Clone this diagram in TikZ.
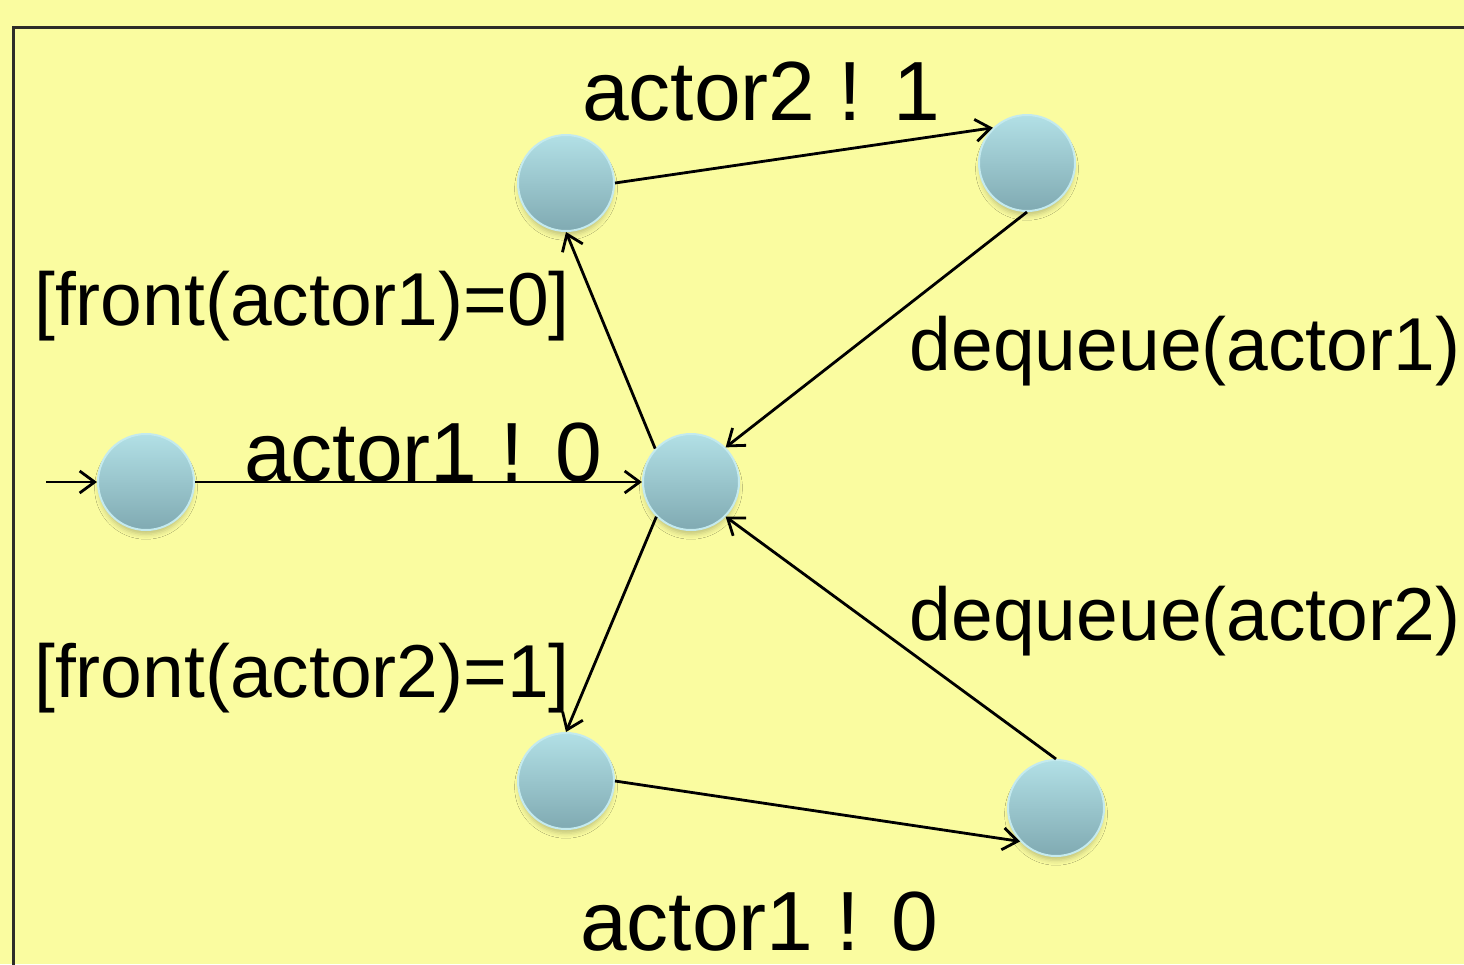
\documentclass[tikz,border=0pt]{standalone}
\usepackage{fontspec}
\setmainfont{Liberation Sans}
\usetikzlibrary{arrows.meta,shadows.blur}
\definecolor{paper}{RGB}{250,252,160}
\definecolor{frameline}{RGB}{45,45,40}
\definecolor{statetop}{RGB}{178,224,230}
\definecolor{statebot}{RGB}{128,170,178}
\definecolor{stateedge}{RGB}{196,234,238}
\tikzset{
  state/.style={circle, minimum size=96pt, inner sep=0pt,
    top color=statetop, bottom color=statebot,
    draw=stateedge, line width=2pt,
    blur shadow={shadow xshift=0pt, shadow yshift=-6pt, shadow scale=0.97,
      shadow blur radius=5pt, shadow opacity=22}},
  trans/.style={draw=black, line width=2.8pt,
    -{Straight Barb[length=15pt,width=22pt]}},
  lbl/.style={font=\fontsize{75}{90}\selectfont, inner sep=0pt, anchor=base},
  sendlbl/.style={lbl, font=\fontsize{84}{100}\selectfont}
}
\begin{document}
\begin{tikzpicture}[x=1pt,y=-1pt]
  % page and frame
  \fill[paper] (0,0) rectangle (1464,964);
  \useasboundingbox (0,0) rectangle (1464,964);
  \draw[frameline, line width=3pt] (13,990) -- (13,27) -- (1490,27);

  % states
  \node[state] (s0) at (146,482) {};
  \node[state] (c)  at (691,482) {};
  \node[state] (t1) at (566,183) {};
  \node[state] (t2) at (1027,163) {};
  \node[state] (b1) at (566,781) {};
  \node[state] (b2) at (1056,808) {};
  \coordinate (init) at (46,482);

  % transitions
  \draw[trans] (init) -- (s0.west);
  \draw[trans] (s0.east) -- (c.west);
  \draw[trans] (c.137) -- (t1.south);
  \draw[trans] (t1.east) -- (t2.134);
  \draw[trans] (t2.south) -- (c.45);
  \draw[trans] (c.225) -- (b1.north);
  \draw[trans] (b1.east) -- (b2.223);
  \draw[trans] (b2.north) -- (c.315);

  % labels
  \node[sendlbl] (l1) at (423,481) {actor1 ! 0};
  \node[lbl] (l2) at (302,325) {[front(actor1)=0]};
  \node[sendlbl] (l3) at (761,120) {actor2 ! 1};
  \node[lbl] (l4) at (1185,370) {dequeue(actor1)};
  \node[lbl] (l5) at (302,697) {[front(actor2)=1]};
  \node[lbl] (l6) at (1185,640) {dequeue(actor2)};
  \node[sendlbl] (l7) at (759,950) {actor1 ! 0};
\end{tikzpicture}
\end{document}
